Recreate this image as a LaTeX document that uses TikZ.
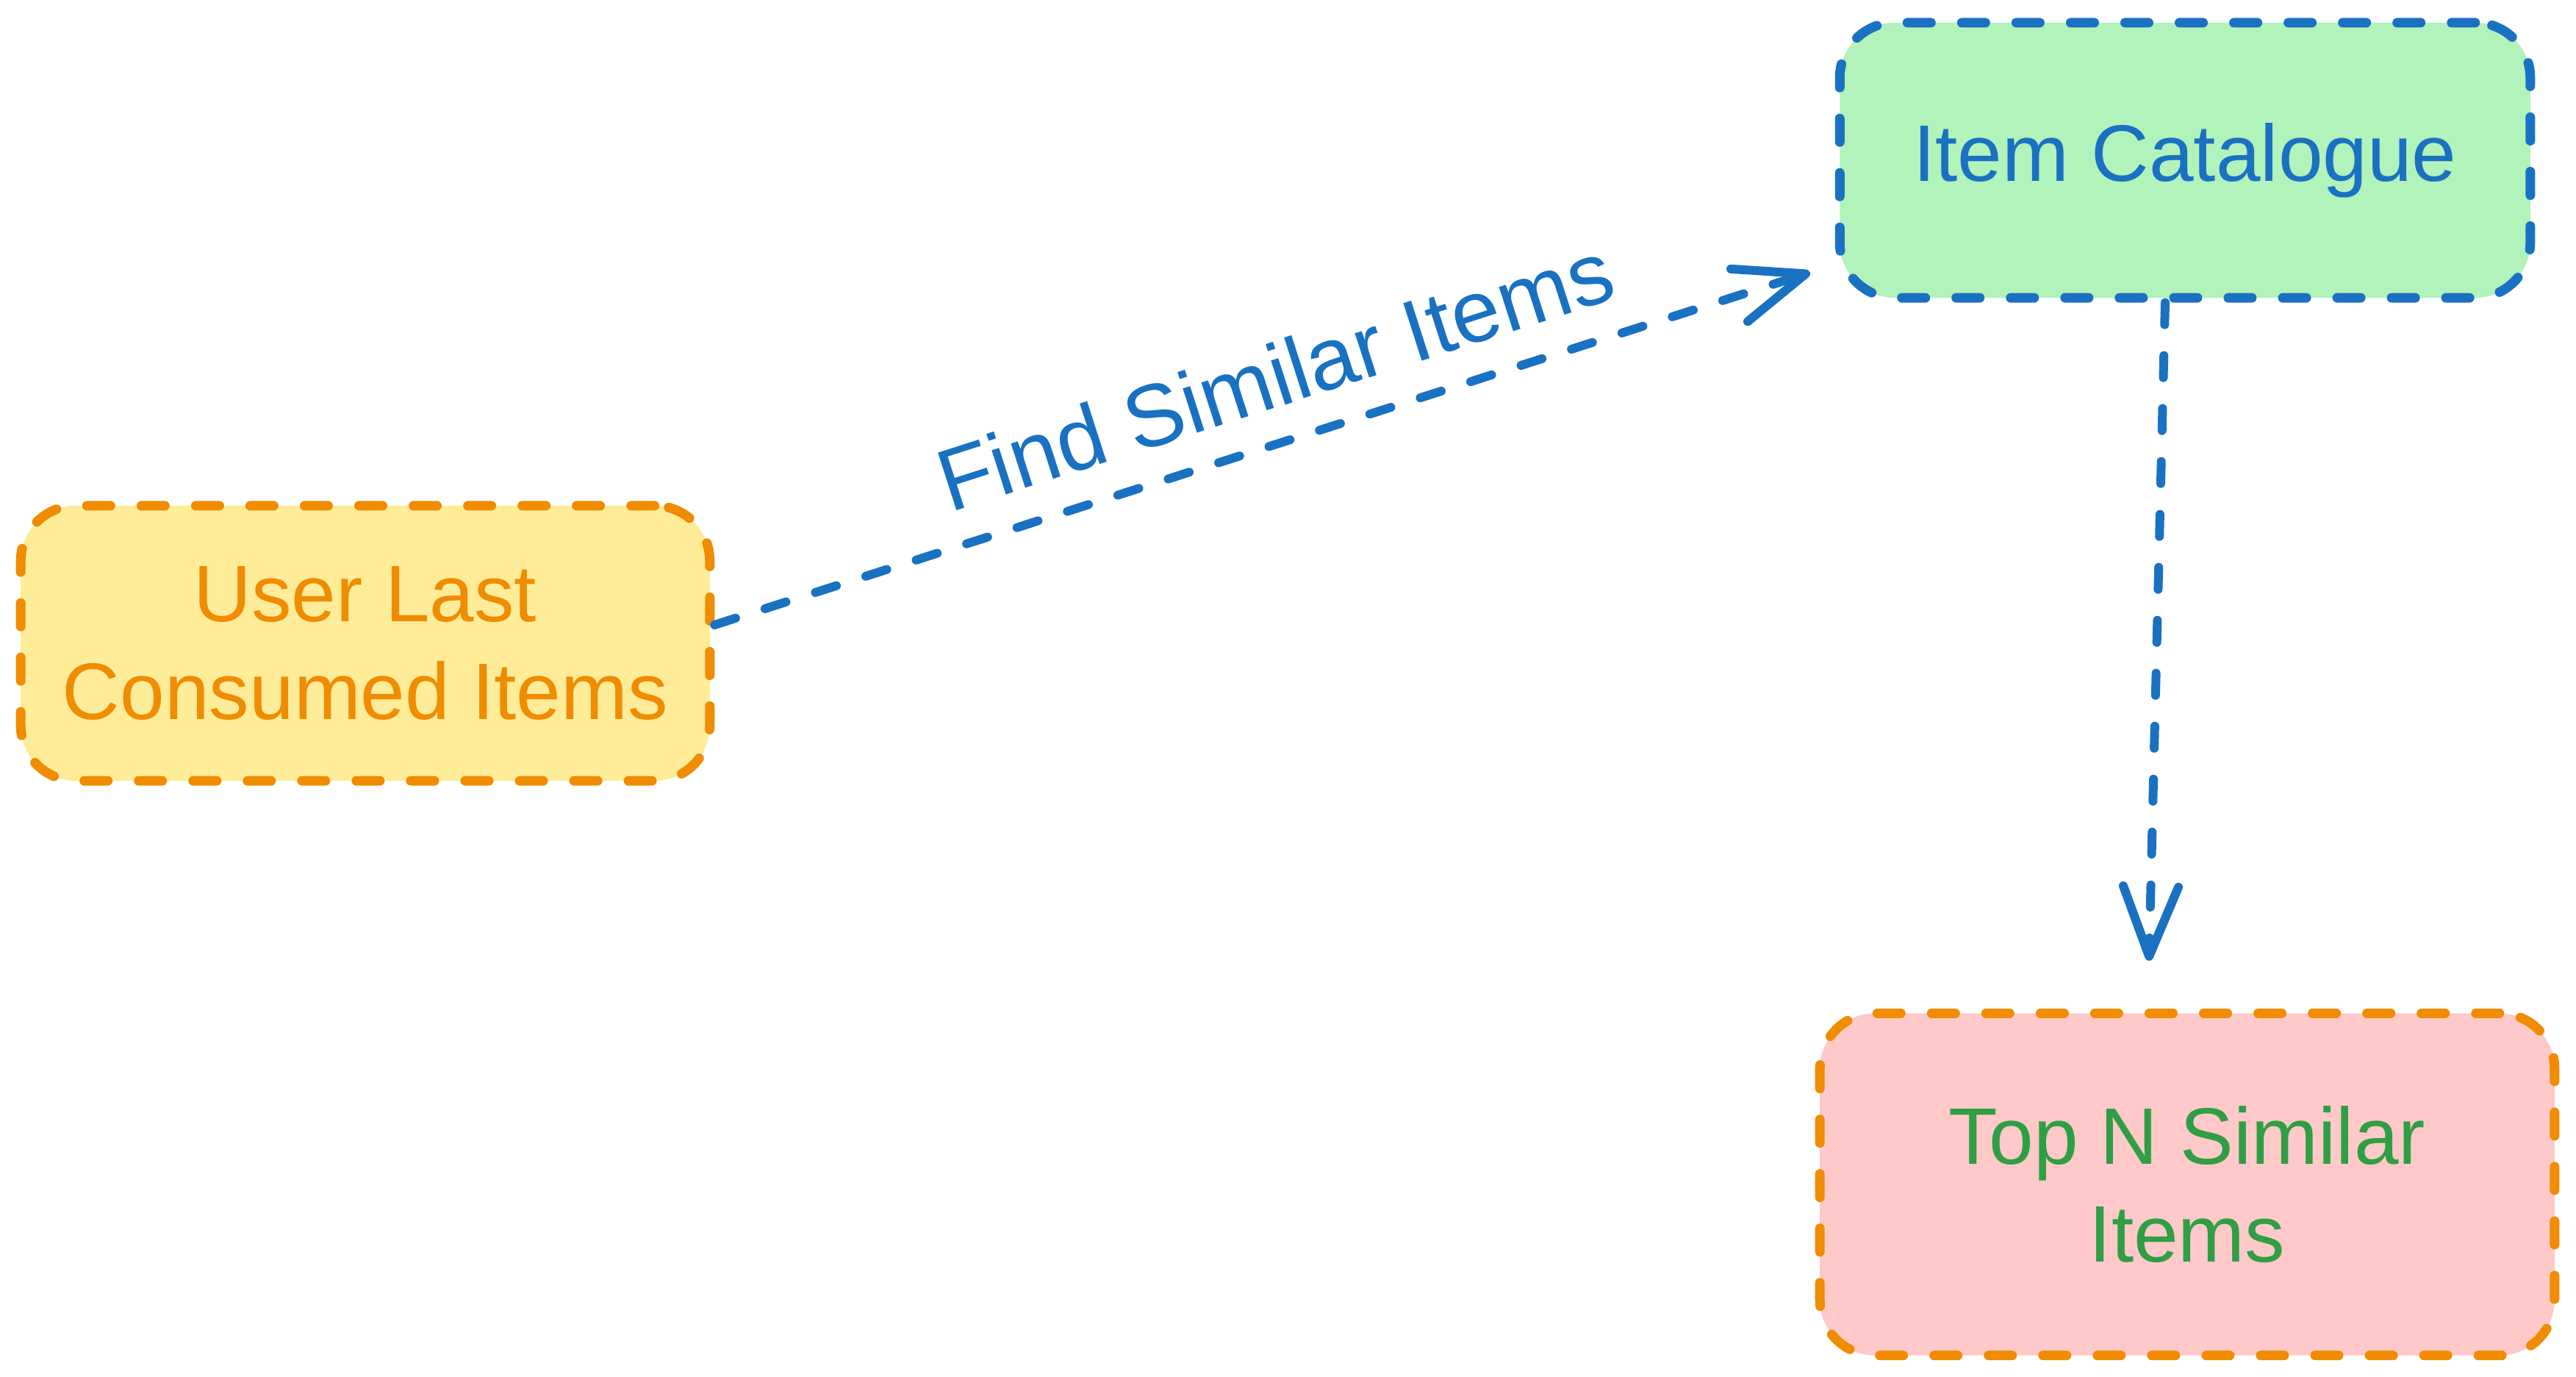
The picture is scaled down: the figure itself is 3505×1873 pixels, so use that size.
\documentclass[tikz,border=0pt]{standalone}
\usepackage{fontspec}
\setmainfont{Liberation Sans}
\usetikzlibrary{arrows.meta,calc}
\definecolor{exOrange}{HTML}{F08C00}
\definecolor{exBlue}{HTML}{1971C2}
\definecolor{exGreen}{HTML}{2F9E44}
\definecolor{fillYellow}{HTML}{FFEC99}
\definecolor{fillGreen}{HTML}{B2F2BB}
\definecolor{fillPink}{HTML}{FFC9C9}
\begin{document}
\begin{tikzpicture}[x=0.01cm,y=-0.01cm,
  box/.style={draw, rounded corners=0.75cm, line width=0.13cm,
    dash pattern=on 0.32cm off 0.42cm, line cap=round, inner sep=0pt,
    align=center, font=\fontsize{31}{38}\selectfont},
  link/.style={draw=exBlue, line width=0.12cm, dash pattern=on 0.3cm off 0.42cm,
    line cap=round, -{Straight Barb[length=0.95cm,width=0.75cm,round]}},
  lbl/.style={text=exBlue, font=\fontsize{34}{40}\selectfont}]
\useasboundingbox (0,0) rectangle (3505,1873);
\node[box, draw=exOrange, fill=fillYellow, text=exOrange,
  minimum width=9.37cm, minimum height=3.74cm] (user) at (497,875)
  {User Last\\Consumed Items};
\node[box, draw=exBlue, fill=fillGreen, text=exBlue,
  minimum width=9.39cm, minimum height=3.74cm] (cat) at (2973,218)
  {Item Catalogue};
\node[box, draw=exOrange, fill=fillPink, text=exGreen,
  minimum width=9.99cm, minimum height=4.65cm] (top) at (2976,1611)
  {Top N Similar\\Items};
\coordinate (a1s) at ($(user.east)+(0,-25)$);
\coordinate (a1e) at ($(cat.south west)+(-34,-41)$);
\coordinate (a2s) at ($(cat.south)+(-27,0)$);
\coordinate (a2e) at ($(top.north)+(-52,-65)$);
\draw[link] (a1s) -- node[lbl, sloped, above, inner sep=0.4cm, pos=0.53] (lab) {Find Similar Items} (a1e);
\draw[link] (a2s) -- (a2e);
\end{tikzpicture}
\end{document}
